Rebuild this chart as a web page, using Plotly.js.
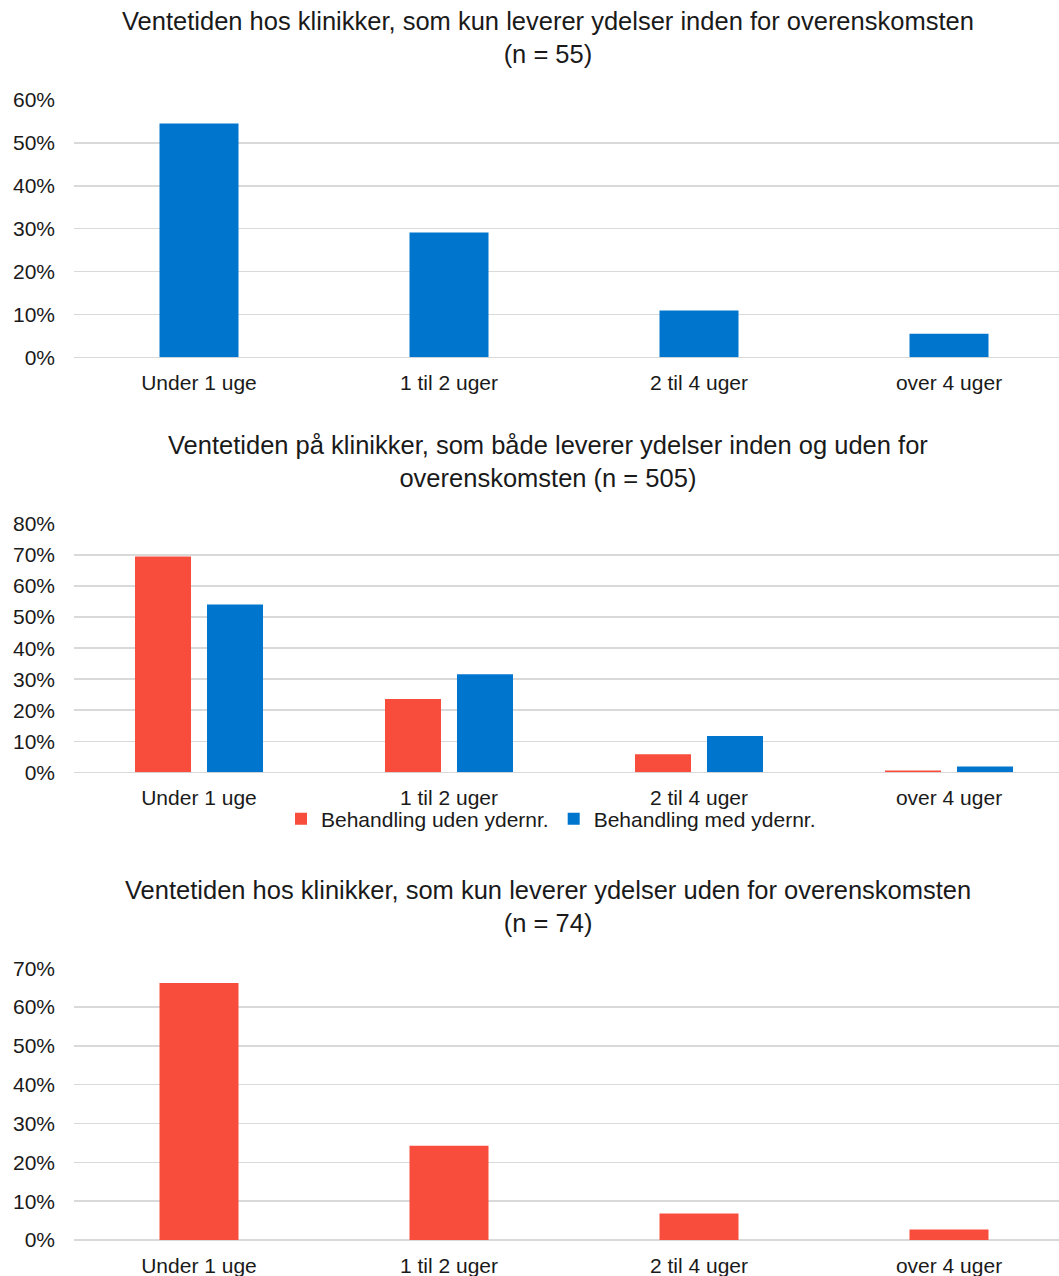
<!DOCTYPE html>
<html>
<head>
<meta charset="utf-8">
<script src="https://cdn.plot.ly/plotly-3.0.1.min.js"></script>
<style>html,body{margin:0;padding:0;background:#fff;}#chart{width:1059px;height:1276px;}</style>
</head>
<body>
<div id="chart"></div>
<script>
const categories = ['Under 1 uge', '1 til 2 uger', '2 til 4 uger', 'over 4 uger'];
const chart1Values = [0.545, 0.291, 0.109, 0.055];
const chart2Uden = [0.695, 0.236, 0.058, 0.006];
const chart2Med = [0.541, 0.316, 0.117, 0.019];
const chart3Values = [0.662, 0.243, 0.068, 0.027];
const seriesNames = ['Behandling uden ydernr.', 'Behandling med ydernr.'];
const titles = [
  'Ventetiden hos klinikker, som kun leverer ydelser inden for overenskomsten<br>(n = 55)',
  'Ventetiden på klinikker, som både leverer ydelser inden og uden for<br>overenskomsten (n = 505)',
  'Ventetiden hos klinikker, som kun leverer ydelser uden for overenskomsten<br>(n = 74)'
];

const RED = '#F84C3C';
const BLUE = '#0075CD';
const FONT = 'Liberation Sans, Arial, sans-serif';
const TXT = '#1a1a1a';
const H = 1276, W = 1059;
const fy = px => 1 - px / H;

const traces = [
  {type: 'bar', x: categories, y: chart1Values, xaxis: 'x', yaxis: 'y', marker: {color: BLUE}, width: 0.316, showlegend: false, hoverinfo: 'skip'},
  {type: 'bar', x: categories, y: chart2Uden, xaxis: 'x2', yaxis: 'y2', marker: {color: RED}, name: seriesNames[0], hoverinfo: 'skip'},
  {type: 'bar', x: categories, y: chart2Med, xaxis: 'x2', yaxis: 'y2', marker: {color: BLUE}, name: seriesNames[1], hoverinfo: 'skip'},
  {type: 'bar', x: categories, y: chart3Values, xaxis: 'x3', yaxis: 'y3', marker: {color: RED}, width: 0.316, showlegend: false, hoverinfo: 'skip'}
];

const xdom = [74 / W, 1];
function yax(dom, max) {
  return {
    domain: dom, range: [0, max], dtick: 0.1, tickformat: '.0%',
    showgrid: true, gridcolor: '#D9D9D9', gridwidth: 1.5,
    zeroline: true, zerolinecolor: '#D9D9D9', zerolinewidth: 1.5,
    showline: false, ticks: '', ticklabelstandoff: 18,
    tickfont: {family: FONT, size: 21, color: TXT}, fixedrange: true
  };
}
function xax(anchor) {
  return {
    domain: xdom, anchor: anchor, type: 'category', range: [-0.5, 3.44],
    showgrid: false, zeroline: false,
    showline: false, ticks: '', ticklabelstandoff: 11,
    tickfont: {family: FONT, size: 21, color: TXT}, fixedrange: true
  };
}

const titleMid = [37, 461.5, 906];
const annotations = titles.map((t, i) => ({
  text: t, x: 548 / W, y: fy(titleMid[i]), xref: 'paper', yref: 'paper',
  xanchor: 'center', yanchor: 'middle', showarrow: false,
  font: {family: FONT, size: 25.5, color: TXT}
}));

const layout = {
  width: W, height: H,
  margin: {l: 0, r: 0, t: 0, b: 0},
  paper_bgcolor: '#fff', plot_bgcolor: '#fff',
  barmode: 'group', bargap: 0.424, bargroupgap: 0.222,
  xaxis: xax('y'), yaxis: yax([fy(357.3), fy(100)], 0.6),
  xaxis2: xax('y2'), yaxis2: yax([fy(772.3), fy(524)], 0.8),
  xaxis3: xax('y3'), yaxis3: yax([fy(1240), fy(968.3)], 0.7),
  legend: {orientation: 'h', x: 551 / W, xanchor: 'center', y: fy(819), yanchor: 'middle',
    font: {family: FONT, size: 21, color: TXT}, itemwidth: 30, bgcolor: 'rgba(0,0,0,0)'},
  annotations: annotations,
  showlegend: true
};

Plotly.newPlot('chart', traces, layout, {displayModeBar: false, staticPlot: true});
</script>
</body>
</html>
